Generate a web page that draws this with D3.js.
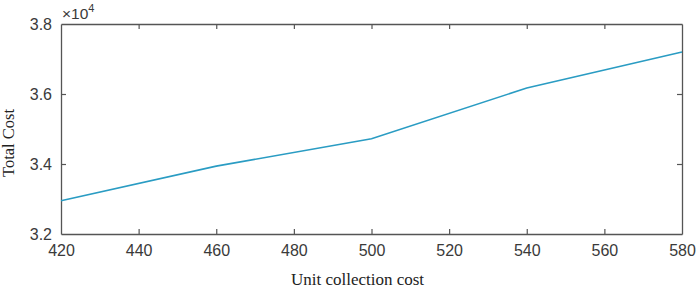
<!DOCTYPE html>
<html>
<head>
<meta charset="utf-8">
<script src="https://cdn.jsdelivr.net/npm/d3@7"></script>
<style>
  body { margin: 0; background: #fff; }
  .tick text { font-family: "Liberation Sans", Arial, sans-serif; font-size: 16px; fill: #3a3a3a; }
</style>
</head>
<body>
<div id="chart"></div>
<script>
// data
var unitCost = [420, 460, 500, 540, 580];
var totalCost = [32950, 33940, 34720, 36170, 37200];
var xTicks = [420, 440, 460, 480, 500, 520, 540, 560, 580];
var yTicks = [32000, 34000, 36000, 38000];

var svgWidth = 699;
var svgHeight = 289;
var margin = { top: 24, right: 17, bottom: 55, left: 61 };
var width = svgWidth - margin.left - margin.right;
var height = svgHeight - margin.top - margin.bottom;

var svg = d3.select("#chart")
  .append("svg")
  .attr("width", svgWidth)
  .attr("height", svgHeight);

var chartGroup = svg.append("g")
  .attr("transform", `translate(${margin.left}, ${margin.top})`);

var xScale = d3.scaleLinear().domain([420, 580]).range([0, width]);
var yScale = d3.scaleLinear().domain([32000, 38000]).range([height, 0]);

var axisColor = "#555";

// bottom + top
var bottomAxis = d3.axisBottom(xScale).tickValues(xTicks).tickSizeInner(-5).tickSizeOuter(0).tickPadding(11).tickFormat(d3.format("d"));
var topAxis = d3.axisTop(xScale).tickValues(xTicks).tickSizeInner(-5).tickSizeOuter(0).tickFormat("");
var leftAxis = d3.axisLeft(yScale).tickValues(yTicks).tickSizeInner(-5).tickSizeOuter(0).tickPadding(9).tickFormat(d => (d / 10000).toFixed(1));
var rightAxis = d3.axisRight(yScale).tickValues(yTicks).tickSizeInner(-5).tickSizeOuter(0).tickFormat("");

chartGroup.append("g").attr("class", "xaxis").attr("transform", `translate(0, ${height})`).call(bottomAxis);
chartGroup.append("g").attr("transform", "translate(0,0)").call(topAxis);
chartGroup.append("g").attr("class", "yaxis").call(leftAxis);
chartGroup.append("g").attr("transform", `translate(${width}, 0)`).call(rightAxis);

chartGroup.selectAll(".domain").attr("stroke", axisColor).attr("stroke-width", 1.3);
chartGroup.selectAll(".tick line").attr("stroke", axisColor).attr("stroke-width", 1.2);

// hide end ticks that sit on the box corners
chartGroup.selectAll(".tick line").filter(function(d) {
  return d === 420 || d === 580 || d === 32000 || d === 38000;
}).remove();

var line = d3.line()
  .x((d, i) => xScale(unitCost[i]))
  .y(d => yScale(d));

chartGroup.append("path")
  .datum(totalCost)
  .attr("fill", "none")
  .attr("stroke", "#2a9cc3")
  .attr("stroke-width", 1.6)
  .attr("d", line);

// exponent label
var expo = chartGroup.append("text")
  .attr("x", 1)
  .attr("y", -5)
  .attr("font-family", "Liberation Sans, Arial, sans-serif")
  .attr("font-size", 15.5)
  .attr("fill", "#3a3a3a");
expo.append("tspan").text("\u00d710");
expo.append("tspan").attr("dy", -7).attr("font-size", 11).text("4");

chartGroup.append("text")
  .attr("x", width / 2 - 14)
  .attr("y", height + 51)
  .attr("text-anchor", "middle")
  .attr("font-family", "Liberation Serif, 'DejaVu Serif', serif")
  .attr("font-size", 17)
  .attr("fill", "#222")
  .text("Unit collection cost");

chartGroup.append("text")
  .attr("x", -119)
  .attr("y", -47)
  .attr("transform", "rotate(-90)")
  .attr("text-anchor", "middle")
  .attr("font-family", "Liberation Serif, 'DejaVu Serif', serif")
  .attr("font-size", 16.5)
  .attr("fill", "#222")
  .text("Total Cost");
</script>
</body>
</html>
